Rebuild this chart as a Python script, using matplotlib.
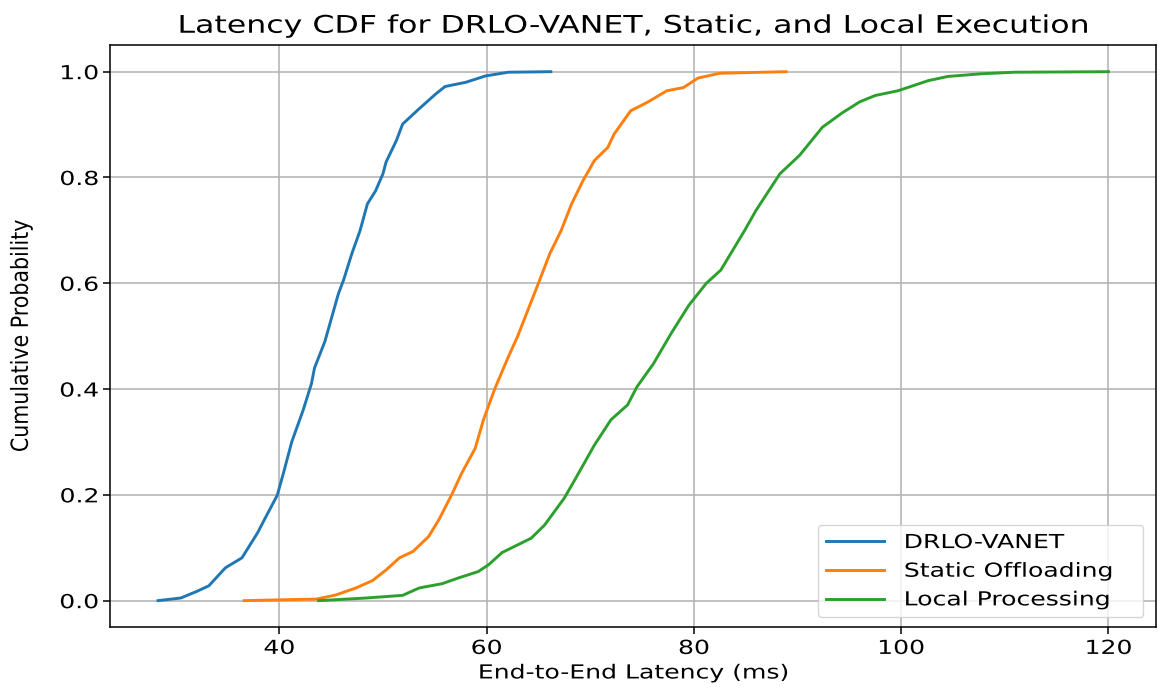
import matplotlib
matplotlib.use("Agg")
import matplotlib.pyplot as plt
from matplotlib.patheffects import AbstractPathEffect
from matplotlib.transforms import Affine2D

# values (latency in ms, cumulative probability)
drlo_x = [28.3, 30.5, 32.1, 33.2, 34.8, 36.4, 37.9, 38.8, 39.8, 40.4, 41.2, 42.3, 43.1, 43.4,
          44.4, 45.7, 46.2, 47.0, 47.8, 48.5, 49.3, 50.0, 50.3, 51.3, 51.9, 53.5, 55.1, 56.0,
          58.0, 59.9, 62.1, 66.2]
drlo_y = [0.0, 0.005, 0.018, 0.028, 0.062, 0.081, 0.128, 0.162, 0.199, 0.241, 0.30, 0.36, 0.41,
          0.44, 0.49, 0.58, 0.606, 0.656, 0.70, 0.75, 0.775, 0.807, 0.829, 0.87, 0.901, 0.93,
          0.958, 0.972, 0.98, 0.992, 0.999, 1.0]

static_x = [36.6, 43.6, 45.5, 47.4, 49.0, 50.3, 51.6, 52.9, 54.4, 55.4, 56.7, 57.6, 58.9, 59.7,
            60.8, 62.1, 63.0, 65.0, 66.1, 67.2, 68.2, 69.3, 70.4, 71.7, 72.3, 73.9, 75.5, 77.4,
            79.0, 80.4, 82.5, 86.7, 88.9]
static_y = [0.0, 0.003, 0.011, 0.024, 0.038, 0.058, 0.081, 0.093, 0.121, 0.153, 0.203, 0.241,
            0.288, 0.342, 0.401, 0.461, 0.50, 0.60, 0.656, 0.70, 0.75, 0.794, 0.832, 0.857,
            0.882, 0.926, 0.942, 0.964, 0.97, 0.988, 0.997, 0.999, 1.0]

local_x = [43.8, 48.4, 51.9, 53.5, 55.7, 57.3, 59.2, 60.2, 61.5, 64.3, 65.6, 67.5, 68.5, 70.4,
           72.0, 73.6, 74.5, 76.1, 77.8, 79.5, 81.2, 82.6, 84.9, 86.0, 88.3, 90.2, 92.4, 94.3,
           96.0, 97.5, 99.7, 102.6, 104.5, 107.7, 110.9, 120.0]
local_y = [0.0, 0.005, 0.01, 0.024, 0.032, 0.043, 0.055, 0.068, 0.091, 0.118, 0.143, 0.194,
           0.228, 0.294, 0.342, 0.37, 0.404, 0.448, 0.505, 0.558, 0.60, 0.625, 0.70, 0.738,
           0.807, 0.842, 0.895, 0.922, 0.943, 0.955, 0.964, 0.983, 0.991, 0.996, 0.999, 1.0]

labels = ["DRLO-VANET", "Static Offloading", "Local Processing"]
x_ticks = [40, 60, 80, 100, 120]
y_ticks = [0.0, 0.2, 0.4, 0.6, 0.8, 1.0]

SX = 1.3  # the reference's text is stretched sideways


class Stretch(AbstractPathEffect):
    # widen the drawn glyphs horizontally, keeping one side (or the middle) fixed
    def __init__(self, sx, anchor="center"):
        super().__init__()
        self.sx = sx
        self.anchor = anchor

    def draw_path(self, renderer, gc, tpath, affine, rgbFace=None):
        ext = tpath.get_extents(affine)
        if self.anchor == "left":
            cx = ext.x0
        elif self.anchor == "right":
            cx = ext.x1
        else:
            cx = (ext.x0 + ext.x1) / 2
        tr = affine + Affine2D().translate(-cx, 0).scale(self.sx, 1).translate(cx, 0)
        renderer.draw_path(gc, tpath, tr, rgbFace)


fig = plt.figure(figsize=(11.63, 6.96), dpi=100)
ax = fig.add_subplot()
fig.subplots_adjust(left=0.095, right=0.994, top=0.935, bottom=0.099)

ax.plot(drlo_x, drlo_y, color="#1f77b4", linewidth=2.1, label=labels[0])
ax.plot(static_x, static_y, color="#ff7f0e", linewidth=2.1, label=labels[1])
ax.plot(local_x, local_y, color="#2ca02c", linewidth=2.1, label=labels[2])

ax.set_xticks(x_ticks)
ax.set_yticks(y_ticks)
ax.tick_params(labelsize=13.9, width=1.1, length=5)
ax.grid(True, linewidth=1.1)
for s in ax.spines.values():
    s.set_linewidth(1.1)

t = ax.set_title("Latency CDF for DRLO-VANET, Static, and Local Execution", fontsize=17.5, pad=9)
t.set_path_effects([Stretch(SX)])
xl = ax.set_xlabel("End-to-End Latency (ms)", fontsize=13.9)
xl.set_path_effects([Stretch(SX)])
yl = ax.set_ylabel("Cumulative Probability", fontsize=14.8)
yl.set_path_effects([Stretch(1.15)])
ax.yaxis.set_label_coords(-0.076, 0.5)

for lab in ax.get_xticklabels():
    lab.set_path_effects([Stretch(SX)])
for lab in ax.get_yticklabels():
    lab.set_path_effects([Stretch(SX, "right")])

leg = ax.legend(loc="lower right", fontsize=13.9, bbox_to_anchor=(0.677, 0.0172, 0.311, 0.3),
                mode="expand", borderaxespad=0, handlelength=3.0, handletextpad=1.05)
for txt in leg.get_texts():
    txt.set_path_effects([Stretch(SX, "left")])

plt.savefig("out.png", dpi=100)
